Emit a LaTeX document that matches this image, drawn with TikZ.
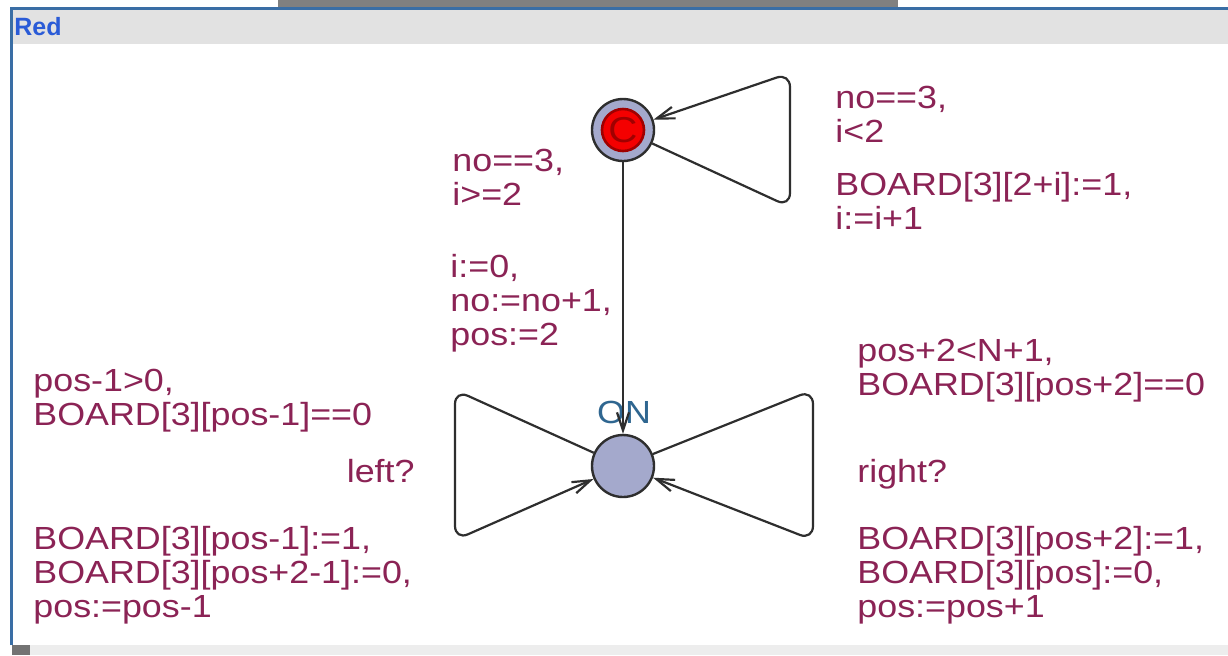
\documentclass[tikz,border=0pt]{standalone}
\usepackage{fontspec}
\setmainfont{Liberation Sans}
\newfontfamily\lblfont[FakeStretch=1.12]{Liberation Sans}
\usetikzlibrary{arrows.meta}
\definecolor{Frame}{HTML}{3A6EA5}
\definecolor{TitleBar}{HTML}{E2E2E2}
\definecolor{Tab}{HTML}{808080}
\definecolor{TitleText}{HTML}{2A5BD7}
\definecolor{Edge}{HTML}{2E2E2E}
\definecolor{LocFill}{HTML}{A4A9CC}
\definecolor{CommitRed}{HTML}{F40000}
\definecolor{CommitDark}{HTML}{A00000}
\definecolor{Label}{HTML}{8B2355}
\definecolor{LocName}{HTML}{2F6690}
\tikzset{
  loc/.style={circle,draw=Edge,fill=LocFill,line width=1.2pt,minimum size=31pt,inner sep=0pt},
  commit/.style={circle,draw=CommitDark,fill=CommitRed,line width=1.3pt,minimum size=21pt,inner sep=0pt,text=CommitDark,font=\lblfont\fontsize{18}{18}\selectfont},
  edge/.style={-{Straight Barb[length=9pt,width=6pt]},draw=Edge,line width=1.1pt,rounded corners=7pt},
  lbl/.style={text=Label,font=\lblfont\fontsize{16}{17}\selectfont,align=left,inner sep=0pt,anchor=north west},
  locname/.style={text=LocName,font=\lblfont\fontsize{16}{17}\selectfont,inner sep=0pt}
}
\begin{document}
\begin{tikzpicture}[x=0.5pt,y=-0.5pt]
  \useasboundingbox (0,0) rectangle (1228,655);
  \fill[white] (0,0) rectangle (1228,655);
  % window frame
  \fill[Tab] (278,0) rectangle (898,7);
  \fill[TitleBar] (12,9) rectangle (1228,44);
  \fill[black!7] (12,645) rectangle (1228,655);
  \fill[black!55] (12,645) rectangle (30,655);
  \draw[Frame,line width=1.5pt] (11,645) -- (11,8) -- (1228,8);
  \node[text=TitleText,font=\bfseries\fontsize{12.5}{14}\selectfont,anchor=west,inner sep=0pt] (title) at (14,27) {Red};
  % locations
  \node[loc] (C) at (623,130) {};
  \node[commit] (Cin) at (C) {C};
  \node[loc] (on) at (623,466) {};
  \node[locname] (onname) at (624,412) {ON};
  % edges
  \draw[edge] (C) -- (on);
  \draw[edge] (C) -- (790,207) -- (790,73) -- (C);
  \draw[edge] (on) -- (455,390) -- (455,540) -- (on);
  \draw[edge] (on) -- (813,390) -- (813,540) -- (on);
  % labels of the loop at C
  \node[lbl] (loopguard) at (835,86) {no==3,\\i<2};
  \node[lbl] (loopupdate) at (835,172) {BOARD[3][2+i]:=1,\\i:=i+1};
  % labels of C to ON
  \node[lbl] (downguard) at (452,149) {no==3,\\i>=2};
  \node[lbl] (downupdate) at (450,254) {i:=0,\\no:=no+1,\\pos:=2};
  % labels of the left loop
  \node[lbl] (leftguard) at (33,369) {pos-1>0,\\BOARD[3][pos-1]==0};
  \node[lbl,anchor=north east] (leftsync) at (415,459) {left?};
  \node[lbl] (leftupdate) at (33,526) {BOARD[3][pos-1]:=1,\\BOARD[3][pos+2-1]:=0,\\pos:=pos-1};
  % labels of the right loop
  \node[lbl] (rightguard) at (857,339) {pos+2<N+1,\\BOARD[3][pos+2]==0};
  \node[lbl] (rightsync) at (857,459) {right?};
  \node[lbl] (rightupdate) at (857,526) {BOARD[3][pos+2]:=1,\\BOARD[3][pos]:=0,\\pos:=pos+1};
\end{tikzpicture}
\end{document}
